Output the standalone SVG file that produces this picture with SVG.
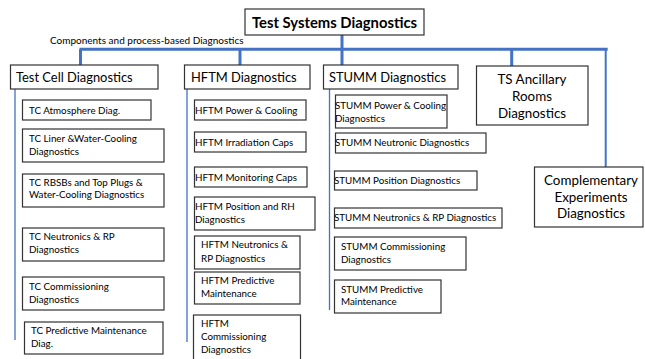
<svg xmlns="http://www.w3.org/2000/svg" width="645" height="359" viewBox="0 0 645 359">
<style>
text{font-family:Lato,"Liberation Sans",sans-serif;fill:#000}
.box{fill:#fff;stroke:#333;stroke-width:1.2}
.t{font-size:9.8px}
.h{font-size:12.9px}
.big{font-size:13.4px;text-anchor:middle}
.title{font-size:14.8px;font-weight:bold}
.bar{stroke:#4472C4;stroke-width:3;fill:none}
.thin{stroke:#4472C4;stroke-width:1.3;fill:none}
.mid{stroke:#4472C4;stroke-width:2;fill:none}
</style>
<rect width="645" height="359" fill="#fff"/>
<g id="connectors">
<path class="bar" d="M79.5 49.2H607.7M80.5 49.2V65M240 49.2V65M342 35V65M511.7 49.2V66"/>
<path class="mid" d="M605.7 49.2V167"/>
<path class="thin" d="M15 89V340M187 89V342M329.5 89V310"/>
</g>
<g id="title"><rect class="box" x="245" y="9" width="179" height="26"/><text class="title" x="252" y="27.5">Test Systems Diagnostics</text></g>
<text id="label" x="50" y="44" font-size="10px">Components and process-based Diagnostics</text>
<g id="tc"><rect class="box" x="10.5" y="65" width="147.5" height="24"/><text class="h" x="16" y="82">Test Cell Diagnostics</text></g>
<g id="hftm"><rect class="box" x="184.5" y="65" width="125.5" height="24"/><text class="h" x="191" y="82">HFTM Diagnostics</text></g>
<g id="stumm"><rect class="box" x="323.5" y="65" width="134.5" height="24"/><text class="h" x="329" y="82">STUMM Diagnostics</text></g>
<g id="tsar"><rect class="box" x="476.5" y="66" width="111.5" height="59"/><text class="big" x="532" y="84">TS Ancillary</text><text class="big" x="532" y="101">Rooms</text><text class="big" x="532" y="118">Diagnostics</text></g>
<g id="ced"><rect class="box" x="534.5" y="167" width="108.5" height="60"/><text class="big" x="591" y="185">Complementary</text><text class="big" x="591" y="202">Experiments</text><text class="big" x="591" y="218">Diagnostics</text></g>

<g id="tc1"><rect class="box" x="22.5" y="100" width="128.5" height="20"/><text class="t" x="29" y="114">TC Atmosphere Diag.</text></g>
<g id="tc2"><rect class="box" x="22.5" y="129" width="141.5" height="33"/><text class="t" x="29" y="142">TC Liner &amp;Water-Cooling</text><text class="t" x="29" y="155">Diagnostics</text></g>
<g id="tc3"><rect class="box" x="22.5" y="174" width="141.5" height="33"/><text class="t" x="29" y="186">TC RBSBs and Top Plugs &amp;</text><text class="t" x="29" y="198">Water-Cooling Diagnostics</text></g>
<g id="tc4"><rect class="box" x="22.5" y="228" width="141.5" height="33"/><text class="t" x="29" y="240">TC Neutronics &amp; RP</text><text class="t" x="29" y="253">Diagnostics</text></g>
<g id="tc5"><rect class="box" x="22.5" y="277" width="141.5" height="33"/><text class="t" x="29" y="290">TC Commissioning</text><text class="t" x="29" y="303">Diagnostics</text></g>
<g id="tc6"><rect class="box" x="24.5" y="322" width="138.5" height="32"/><text class="t" x="31" y="334">TC Predictive Maintenance</text><text class="t" x="31" y="347">Diag.</text></g>

<g id="h1"><rect class="box" x="194.5" y="100" width="111.5" height="20"/><text class="t" x="195" y="114">HFTM Power &amp; Cooling</text></g>
<g id="h2"><rect class="box" x="194.5" y="132" width="111.5" height="20"/><text class="t" x="195" y="146">HFTM Irradiation Caps</text></g>
<g id="h3"><rect class="box" x="194.5" y="167" width="112.5" height="20"/><text class="t" x="195" y="181">HFTM Monitoring Caps</text></g>
<g id="h4"><rect class="box" x="194.5" y="197" width="120.5" height="33"/><text class="t" x="195" y="210">HFTM Position and RH</text><text class="t" x="195" y="223">Diagnostics</text></g>
<g id="h5"><rect class="box" x="194.5" y="236" width="105.5" height="33"/><text class="t" x="201" y="248">HFTM Neutronics &amp;</text><text class="t" x="201" y="262">RP Diagnostics</text></g>
<g id="h6"><rect class="box" x="194.5" y="272" width="105.5" height="32"/><text class="t" x="201" y="284">HFTM Predictive</text><text class="t" x="201" y="297">Maintenance</text></g>
<g id="h7"><rect class="box" x="193.5" y="315" width="107" height="50"/><text class="t" x="201" y="327">HFTM</text><text class="t" x="201" y="340">Commissioning</text><text class="t" x="201" y="353">Diagnostics</text></g>

<g id="s1"><rect class="box" x="335.5" y="95" width="111.5" height="33"/><text class="t" x="335" y="109">STUMM Power &amp; Cooling</text><text class="t" x="335" y="122">Diagnostics</text></g>
<g id="s2"><rect class="box" x="335.5" y="133" width="150.5" height="20"/><text class="t" x="335" y="146">STUMM Neutronic Diagnostics</text></g>
<g id="s3"><rect class="box" x="334.5" y="171" width="142.5" height="19"/><text class="t" x="334" y="184">STUMM Position Diagnostics</text></g>
<g id="s4"><rect class="box" x="334.5" y="208" width="167.5" height="20"/><text class="t" x="334" y="221">STUMM Neutronics &amp; RP Diagnostics</text></g>
<g id="s5"><rect class="box" x="334.5" y="237" width="131.5" height="33"/><text class="t" x="341" y="250">STUMM Commissioning</text><text class="t" x="341" y="263">Diagnostics</text></g>
<g id="s6"><rect class="box" x="334.5" y="280" width="106.5" height="33"/><text class="t" x="341" y="293">STUMM Predictive</text><text class="t" x="341" y="305">Maintenance</text></g>
</svg>
